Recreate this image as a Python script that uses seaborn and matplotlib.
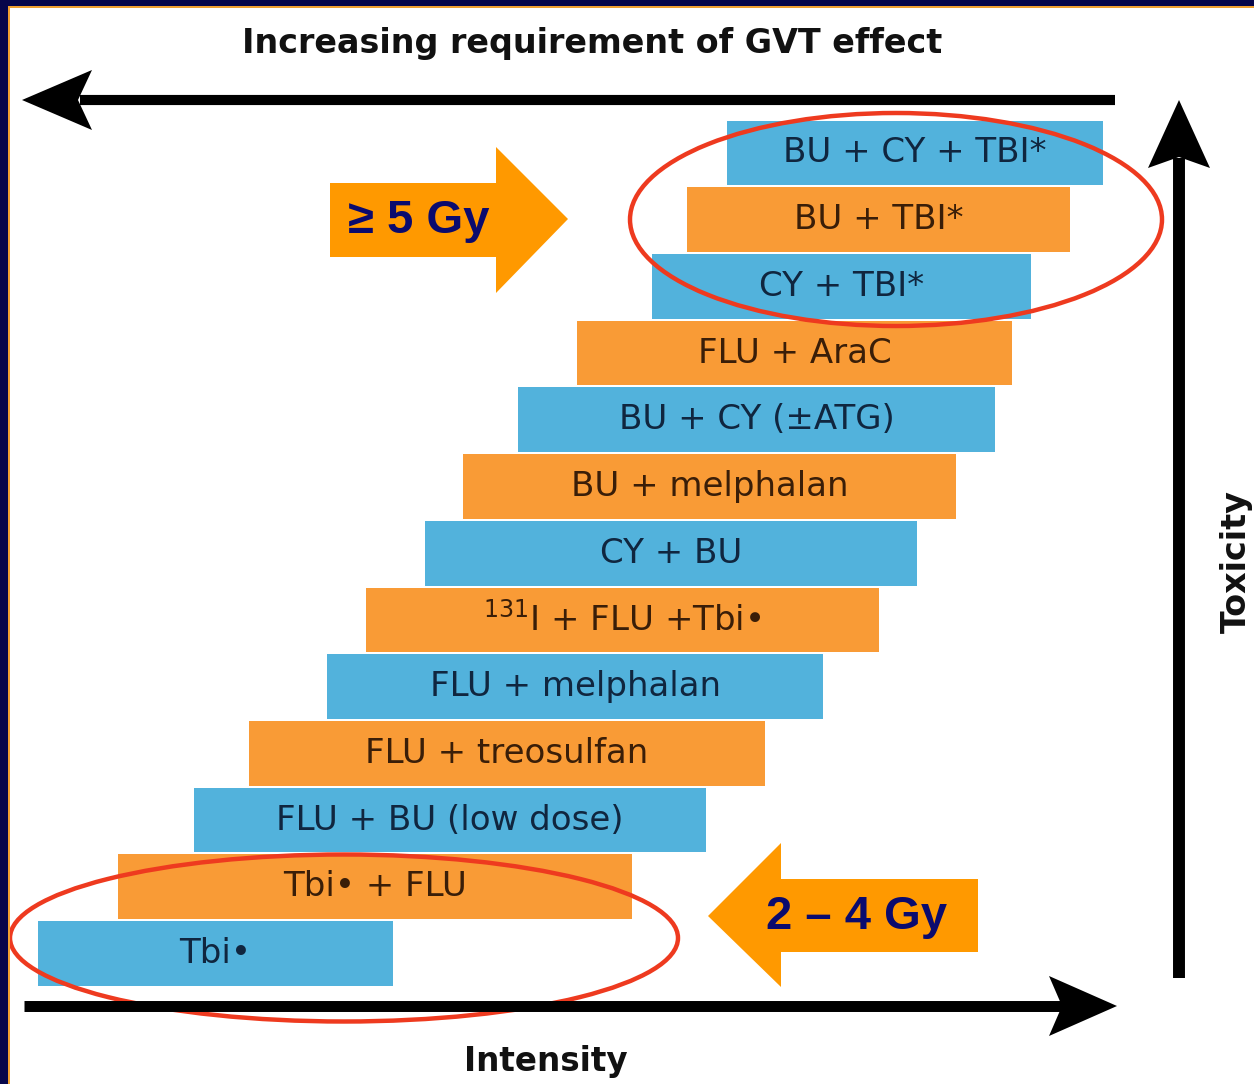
import numpy as np
import pandas as pd
import matplotlib
matplotlib.use("Agg")
import matplotlib.pyplot as plt
import matplotlib.transforms as mtransforms
from matplotlib.patches import Polygon, Ellipse, Rectangle
import seaborn as sns

# ---------------- data (pixel units) ----------------
regimens = [
    "BU + CY + TBI*", "BU + TBI*", "CY + TBI*", "FLU + AraC",
    "BU + CY (\u00b1ATG)", "BU + melphalan", "CY + BU",
    "$^{131}$I + FLU +Tbi\u2022", "FLU + melphalan", "FLU + treosulfan",
    "FLU + BU (low dose)", "Tbi\u2022 + FLU", "Tbi\u2022",
]
bar_start = [727, 687, 652, 577, 518, 463, 425, 366, 327, 249, 194, 118, 38]
bar_end = [1103, 1070, 1031, 1012, 995, 956, 917, 879, 823, 765, 706, 632, 393]
bar_group = ["blue", "orange", "blue", "orange", "blue", "orange", "blue",
             "orange", "blue", "orange", "blue", "orange", "blue"]

title_top = "Increasing requirement of GVT effect"
label_x = "Intensity"
label_y = "Toxicity"
dose_high = "\u2265 5 Gy"
dose_low = "2 \u2013 4 Gy"

# ---------------- style ----------------
W, H = 1254, 1084
sns.set_theme(style="white")
plt.rcParams["font.family"] = ["DejaVu Sans"]
plt.rcParams["mathtext.fontset"] = "dejavusans"

fill_colors = {"blue": "#52B2DC", "orange": "#F99B36"}
text_colors = {"blue": "#10263f", "orange": "#3a1e08"}
gy_orange = "#FF9900"
navy = "#0b0b6e"
red = "#EE3A1F"

df = pd.DataFrame({
    "regimen": regimens,
    "start": bar_start,
    "end": bar_end,
    "group": bar_group,
})
df["length"] = df["end"] - df["start"]

fig = plt.figure(figsize=(W / 100, H / 100), dpi=100)
fig.patch.set_facecolor("white")
ax = fig.add_axes([0, 0, 1, 1])

sns.barplot(
    data=df, x="length", y="regimen", orient="h",
    width=0.97, color=fill_colors["blue"], left=df["start"].to_numpy(),
    facecolor=[fill_colors[g] for g in df["group"]],
    edgecolor="none", linewidth=0, ax=ax, errorbar=None,
)

row0, step = 153.0, 66.71
ax.set_xlim(0, W)
ax.set_ylim((H - row0) / step, -row0 / step)
ax.set_axis_off()

for i, row in df.iterrows():
    ax.text((row["start"] + row["end"]) / 2, i, row["regimen"],
            ha="center", va="center", fontsize=24.5,
            color=text_colors[row["group"]])

# pixel transform (x right, y down)
T = mtransforms.Affine2D().scale(1 / W, -1 / H).translate(0, 1) + fig.transFigure

# frame
fig.patches.append(Rectangle((0, 0), 8, H, transform=T, facecolor="#06064a",
                             edgecolor="none", zorder=0))
fig.patches.append(Rectangle((0, 0), W, 6, transform=T, facecolor="#06064a",
                             edgecolor="none", zorder=0))
fig.patches.append(Rectangle((8, 6), 2, H, transform=T, facecolor="#f0a030",
                             edgecolor="none", zorder=0))
fig.patches.append(Rectangle((8, 6), W, 1.5, transform=T, facecolor="#f0a030",
                             edgecolor="none", zorder=0))

# black axis arrows
ax.plot([1115, 80], [100, 100], transform=T, color="black", lw=7.3,
        solid_capstyle="butt")
ax.add_patch(Polygon([(22, 100), (92, 70), (78, 100), (92, 130)], closed=True,
                     transform=T, facecolor="black", edgecolor="none"))
ax.plot([24, 1062], [1006, 1006], transform=T, color="black", lw=7.9,
        solid_capstyle="butt")
ax.add_patch(Polygon([(1117, 1006), (1049, 976), (1062, 1006), (1049, 1036)],
                     closed=True, transform=T, facecolor="black", edgecolor="none"))
ax.plot([1179, 1179], [978, 158], transform=T, color="black", lw=8.6,
        solid_capstyle="butt")
ax.add_patch(Polygon([(1179, 100), (1148, 168), (1179, 157), (1210, 168)],
                     closed=True, transform=T, facecolor="black", edgecolor="none"))

# axis texts
ax.text(592, 44, title_top, transform=T, ha="center", va="center",
        fontsize=24, fontweight="bold", color="#111111")
ax.text(546, 1061, label_x, transform=T, ha="center", va="center",
        fontsize=23.5, fontweight="bold", color="#111111")
ax.text(1236, 562, label_y, transform=T, ha="center", va="center",
        rotation=90, fontsize=24, fontweight="bold", color="#111111")

# orange dose arrows
ax.add_patch(Polygon([(330, 183), (496, 183), (496, 147), (568, 219),
                      (496, 293), (496, 257), (330, 257)], closed=True,
                     transform=T, facecolor=gy_orange, edgecolor="none"))
ax.text(419, 221, dose_high, transform=T, ha="center", va="center",
        fontsize=34, fontweight="bold", color=navy, family="Liberation Sans")
ax.add_patch(Polygon([(978, 879), (781, 879), (781, 843), (708, 916),
                      (781, 987), (781, 952), (978, 952)], closed=True,
                     transform=T, facecolor=gy_orange, edgecolor="none"))
ax.text(856, 917, dose_low, transform=T, ha="center", va="center",
        fontsize=34, fontweight="bold", color=navy, family="Liberation Sans")

# red ellipses
ax.add_patch(Ellipse((896, 219.5), 532, 213, transform=T, facecolor="none",
                     edgecolor=red, lw=3.2))
ax.add_patch(Ellipse((344, 938), 668, 167, transform=T, facecolor="none",
                     edgecolor=red, lw=3.2))

fig.savefig("out.png", dpi=100, facecolor="white")
